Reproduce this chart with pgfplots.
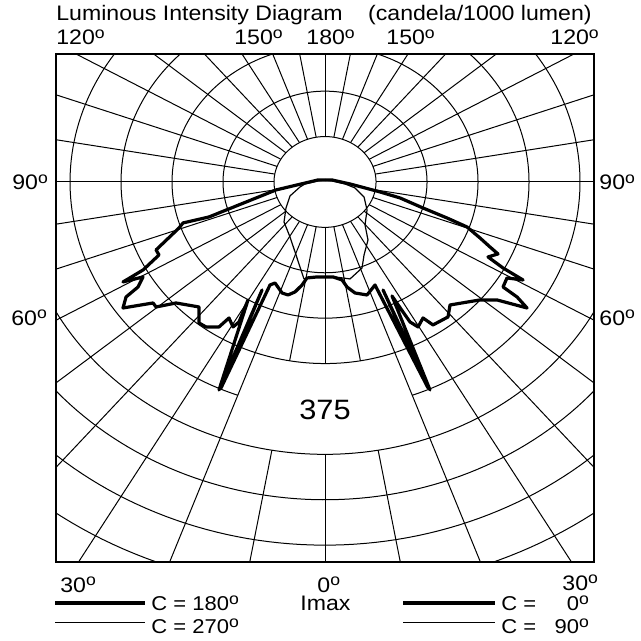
\documentclass[border=0pt]{standalone}
\usepackage{pgfplots}
\pgfplotsset{compat=1.18}
\usepackage{pgfplotstable}
\usepackage{fontspec}
\setmainfont{Liberation Sans}
\usepackage{graphicx}
\newcommand{\dg}{\raisebox{0.55ex}{\fontsize{8}{8}\selectfont o}}
\newcommand{\lab}[1]{\scalebox{1.1}[1]{#1}}

% C = 0 (right half), intensities in cd/1000 lm as x,y components
\pgfplotstableread{
x y
0 3.3
10.3 3.3
36.8 -3.3
80.9 -16.5
110.3 -26.4
144.1 -43.0
179.4 -59.5
208.8 -74.3
227.9 -92.5
242.6 -107.4
254.4 -118.9
239.7 -123.9
261.8 -142.1
291.2 -161.9
267.6 -158.6
261.8 -173.5
282.4 -190.0
297.1 -208.2
252.9 -194.9
227.9 -194.9
183.8 -203.2
180.9 -223.0
158.8 -236.2
144.1 -224.7
136.8 -239.5
125.0 -231.3
114.7 -214.8
98.5 -188.3
154.4 -343.6
85.3 -178.4
151.5 -340.3
73.5 -170.2
61.8 -186.7
44.1 -183.4
32.4 -173.5
25.0 -161.9
11.8 -156.9
0 -156.9
}\cnull

% C = 180 (left half)
\pgfplotstableread{
x y
0 3.3
-10.3 3.3
-72.1 -13.2
-170.6 -57.8
-208.8 -67.7
-214.7 -76.0
-248.5 -112.3
-244.1 -120.6
-267.6 -145.4
-297.1 -165.2
-267.6 -156.9
-275.0 -173.5
-292.6 -190.0
-297.1 -208.2
-252.9 -199.9
-248.5 -206.5
-219.1 -199.9
-185.3 -206.5
-185.3 -232.9
-175.0 -239.5
-155.9 -239.5
-141.2 -224.7
-135.3 -239.5
-126.5 -231.3
-113.2 -194.9
-155.9 -343.6
-92.6 -178.4
-152.9 -340.3
-80.9 -170.2
-73.5 -166.9
-63.2 -183.4
-54.4 -186.7
-44.1 -181.7
-33.8 -170.2
-26.5 -158.6
-11.8 -156.9
0 -156.9
}\chundertachtzig

% C = 270 (left half, thin)
\pgfplotstableread{
x y
0 3.3
-10.3 1.7
-29.4 -3.3
-36.8 -8.3
-51.5 -23.1
-57.4 -43.0
-60.3 -66.1
-51.5 -90.9
-44.1 -115.6
-36.8 -140.4
-30.9 -160.2
-14.7 -156.9
0 -156.9
}\czweisiebzig

% C = 90 (right half, thin)
\pgfplotstableread{
x y
0 3.3
10.3 1.7
29.4 -3.3
44.1 -9.9
57.4 -24.8
61.8 -46.3
58.8 -71.0
63.2 -95.8
57.4 -120.6
54.4 -142.1
36.8 -160.2
14.7 -156.9
0 -156.9
}\cneunzig

\begin{document}
\begin{tikzpicture}
\useasboundingbox (0,0) rectangle (320.5pt,-320.5pt);
\begin{axis}[
  anchor=south west, at={(28pt,-281pt)},
  x=0.34pt, y=0.30267pt,
  xmin=-395.6, xmax=395.6, ymin=-627.8, ymax=211.5,
  xtick=\empty, ytick=\empty,
  axis line style={line width=0.75pt},
  clip=true,
]
% rings every 75 cd/klm (ring 375 left open below the nadir for its label)
\pgfplotsinvokeforeach{1,2,3,4,6,7,8,9,10,11}{
  \addplot[black, line width=0.5pt, domain=0:360, samples=240] ({75*#1*cos(x)},{75*#1*sin(x)});
}
\addplot[black, line width=0.5pt, domain=290:610, samples=200] ({375*cos(x)},{375*sin(x)});
% spokes every 10 degrees, starting at the first ring
\pgfplotsinvokeforeach{20,30,...,340}{
  \addplot[black, line width=0.5pt, domain=75:1200, samples=2] ({x*sin(#1)},{-x*cos(#1)});
}
\pgfplotsinvokeforeach{0,10,350}{
  \addplot[black, line width=0.5pt, domain=75:300, samples=2] ({x*sin(#1)},{-x*cos(#1)});
  \addplot[black, line width=0.5pt, domain=450:1200, samples=2] ({x*sin(#1)},{-x*cos(#1)});
}
\addplot[black, line width=0.6pt, line join=round] table[x=x,y=y] {\czweisiebzig};
\addplot[black, line width=0.6pt, line join=round] table[x=x,y=y] {\cneunzig};
\addplot[black, line width=1.6pt, line join=round] table[x=x,y=y] {\cnull};
\addplot[black, line width=1.6pt, line join=round] table[x=x,y=y] {\chundertachtzig};
\end{axis}
\begin{scope}[x=0.5pt,y=-0.5pt, every node/.style={inner sep=0pt, font=\fontsize{10.5}{12}\selectfont}]
\node[anchor=base west] at (56,21) {\lab{Luminous Intensity Diagram}};
\node[anchor=base east] at (592,21) {\lab{(candela/1000 lumen)}};
\node[anchor=base west] at (56,45) {\lab{120\dg}};
\node[anchor=base west] at (234,45) {\lab{150\dg}};
\node[anchor=base west] at (306,45) {\lab{180\dg}};
\node[anchor=base west] at (386,45) {\lab{150\dg}};
\node[anchor=base west] at (550,45) {\lab{120\dg}};
\node[anchor=base west] at (12,190) {\lab{90\dg}};
\node[anchor=base west] at (599,190) {\lab{90\dg}};
\node[anchor=base west] at (11,325) {\lab{60\dg}};
\node[anchor=base west] at (599,325) {\lab{60\dg}};
\node[anchor=base west] at (60,592) {\lab{30\dg}};
\node[anchor=base west] at (317,592) {\lab{0\dg}};
\node[anchor=base west] at (562,590) {\lab{30\dg}};
\node[anchor=base west] at (300,610) {\lab{Imax}};
\node[font=\fontsize{14}{16}\selectfont] at (325,410) {\lab{375}};
\draw[line width=2pt] (55,603) -- (145,603);
\draw[line width=0.5pt] (55,622) -- (145,622);
\node[anchor=base west, font=\fontsize{10}{11}\selectfont] at (151,610) {\lab{C = 180\dg}};
\node[anchor=base west, font=\fontsize{10}{11}\selectfont] at (151,633) {\lab{C = 270\dg}};
\draw[line width=2pt] (403,603) -- (495,603);
\draw[line width=0.5pt] (403,622) -- (495,622);
\node[anchor=base west, font=\fontsize{10}{11}\selectfont] at (501,610) {\lab{C = \hphantom{9}\hphantom{9}0\dg}};
\node[anchor=base west, font=\fontsize{10}{11}\selectfont] at (501,633) {\lab{C = \hphantom{9}90\dg}};
\end{scope}
\end{tikzpicture}
\end{document}
